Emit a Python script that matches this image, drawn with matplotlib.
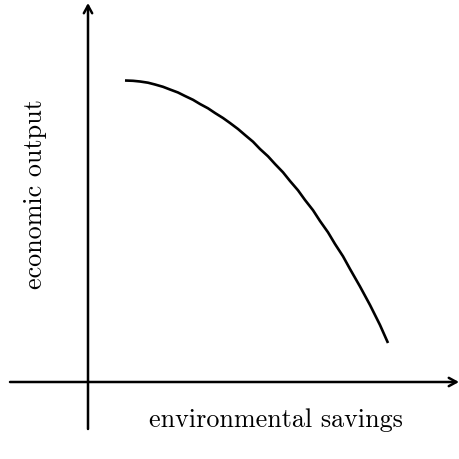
import matplotlib
matplotlib.use("Agg")
import matplotlib.pyplot as plt

# curve (origin at the axes crossing)
savings = [37, 45, 52, 60, 67, 75, 82, 90, 97, 105, 112, 120, 127, 135, 142, 150,
           157, 165, 172, 180, 187, 195, 202, 210, 217, 225, 232, 240, 247, 255,
           262, 272, 282, 292, 300]
output = [301.5, 301.2, 300.5, 299.3, 297.5, 295.2, 292.5, 289.5, 286, 282.2, 278,
          273.7, 269, 264, 259, 253, 247, 240.3, 233, 225.7, 218, 209.7, 201, 191.7,
          182, 171.8, 161, 149.7, 138, 125.7, 113, 95.5, 77, 57, 39]

x_label = "environmental savings"
y_label = "economic output"

fig = plt.figure(figsize=(4.6, 4.6), dpi=100)
ax = fig.add_axes([0, 0, 1, 1])
ax.set_xlim(-88, 372)
ax.set_ylim(-77, 383)
ax.axis("off")

arrow = dict(arrowstyle="->,head_length=0.55,head_width=0.3", lw=1.8, color="black",
             shrinkA=0, shrinkB=0)
ax.annotate("", xy=(371, 0), xytext=(-78, 0), arrowprops=arrow)
ax.annotate("", xy=(0, 379), xytext=(0, -47), arrowprops=arrow)

ax.plot(savings, output, color="black", lw=1.9, solid_capstyle="butt",
        solid_joinstyle="round")

ax.text(188, -37, x_label, fontsize=18.8, family="cmr10", ha="center", va="center")
ax.text(-53, 189, y_label, fontsize=18.8, family="cmr10", ha="center", va="center",
        rotation=90)

fig.savefig("out.png", dpi=100)
